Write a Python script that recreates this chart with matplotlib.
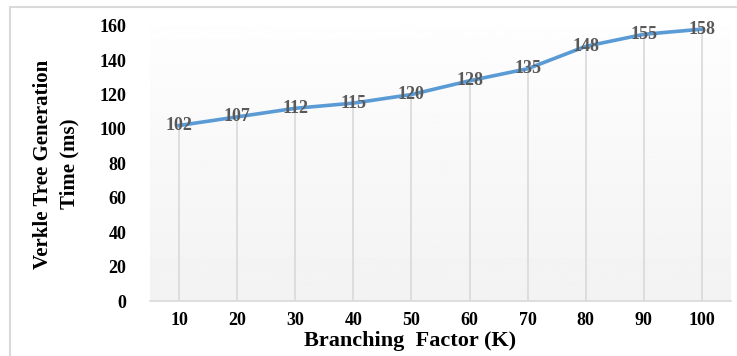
import numpy as np
import matplotlib.pyplot as plt
from matplotlib.patches import Rectangle

branching = ['10', '20', '30', '40', '50', '60', '70', '80', '90', '100']
gen_time = [102, 107, 112, 115, 120, 128, 135, 148, 155, 158]
yticks = [0, 20, 40, 60, 80, 100, 120, 140, 160]

plt.rcParams['font.family'] = ['Liberation Serif', 'DejaVu Serif']

W, H = 737, 356
fig = plt.figure(figsize=(W / 100, H / 100), dpi=100)
ax = fig.add_axes([150 / W, 1 - 301 / H, (731 - 150) / W, (301 - 25.7) / H])

x = np.arange(len(branching))
ax.set_xlim(-0.5, len(branching) - 0.5)

# soft white-to-grey fill behind the plot
grad = np.linspace(1.0, 0.95, 256).reshape(-1, 1)
ax.imshow(grad, cmap='gray', vmin=0, vmax=1, aspect='auto',
          extent=[-0.5, len(branching) - 0.5, 0, 180], zorder=0)
ax.set_ylim(0, 160)

# drop lines from each point to the axis
ax.vlines(x, 0, gen_time, color='#d9d9d9', linewidth=1.2, zorder=1)
ax.plot(x, gen_time, color='#5b9bd5', linewidth=2.6, zorder=2)

for xi, v in zip(x, gen_time):
    ax.text(xi, v, str(v), ha='center', va='center', fontsize=13,
            fontweight='bold', color='#595959', zorder=3)

ax.set_xticks(x)
ax.set_xticklabels(branching)
ax.set_yticks(yticks)
ax.tick_params(axis='both', length=0, labelsize=13)
ax.tick_params(axis='y', pad=17)
ax.tick_params(axis='x', pad=8)
for lbl in ax.get_xticklabels() + ax.get_yticklabels():
    lbl.set_fontweight('bold')

for s in ['top', 'right', 'left']:
    ax.spines[s].set_visible(False)
ax.spines['bottom'].set_color('#d9d9d9')
ax.spines['bottom'].set_linewidth(1.2)

fig.text(410 / W, 1 - 341 / H, 'Branching  Factor (K)', ha='center', va='center',
         fontsize=16, fontweight='bold')
fig.text(56 / W, 1 - 164 / H, 'Verkle Tree Generation\nTime (ms)', ha='center',
         va='center', rotation=90, fontsize=15, fontweight='bold', linespacing=1.45)

# chart frame
fig.patches.append(Rectangle((10 / W, -0.1), 1.0, 1 - 7 / H + 0.1,
                             transform=fig.transFigure, fill=False,
                             edgecolor='#d9d9d9', linewidth=1.5))

fig.savefig('out.png', dpi=100)
